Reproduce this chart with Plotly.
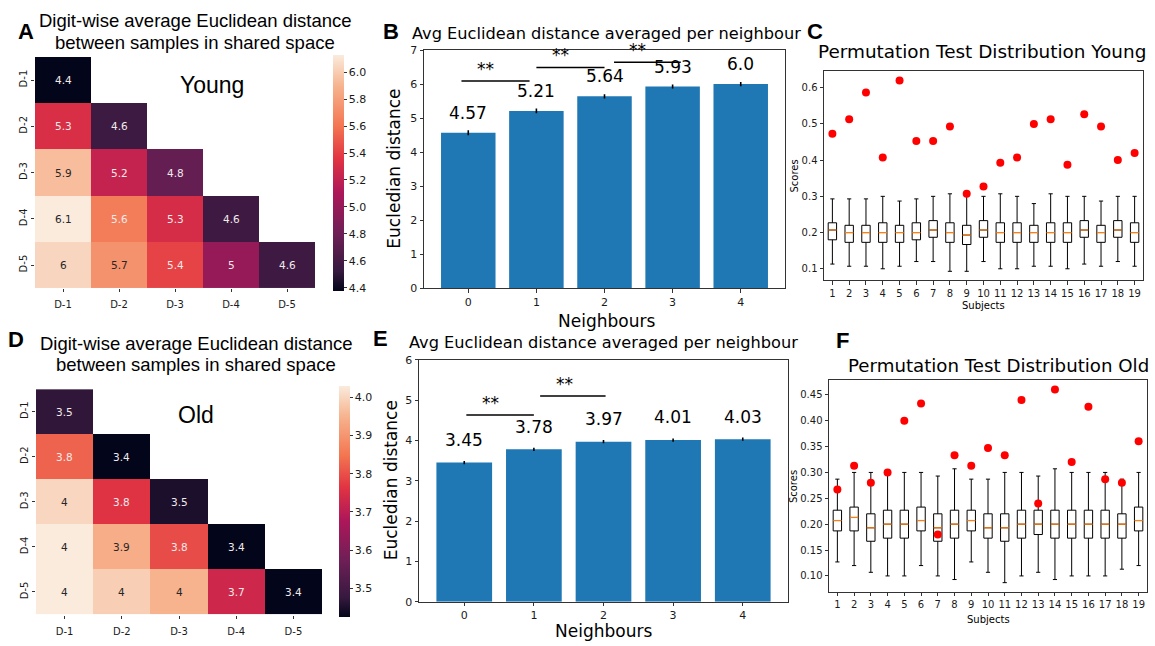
import plotly.graph_objects as go

W, H = 1155, 646

# ---------------- DATA ----------------
digits = ["D-1", "D-2", "D-3", "D-4", "D-5"]

young_dist = [
    [4.38, None, None, None, None],
    [5.32, 4.56, None, None, None],
    [5.94, 5.22, 4.76, None, None],
    [6.13, 5.64, 5.30, 4.57, None],
    [6.04, 5.74, 5.42, 5.00, 4.57],
]
old_dist = [
    [3.47, None, None, None, None],
    [3.825, 3.425, None, None, None],
    [4.00, 3.76, 3.45, None, None],
    [4.03, 3.94, 3.795, 3.425, None],
    [4.03, 3.99, 3.95, 3.73, 3.425],
]

neighbours = [0, 1, 2, 3, 4]
young_nb = [4.57, 5.21, 5.64, 5.93, 6.0]
young_nb_err = [0.07, 0.07, 0.06, 0.06, 0.06]
old_nb = [3.45, 3.78, 3.97, 4.01, 4.03]
old_nb_err = [0.04, 0.04, 0.04, 0.04, 0.04]

subjects = list(range(1, 20))
young_lo = [0.113, 0.107, 0.107, 0.100, 0.107, 0.120, 0.120, 0.093, 0.093, 0.120,
            0.100, 0.100, 0.107, 0.107, 0.100, 0.113, 0.107, 0.120, 0.107]
young_q1 = [0.180, 0.173, 0.173, 0.173, 0.173, 0.180, 0.187, 0.173, 0.167, 0.187,
            0.173, 0.173, 0.173, 0.173, 0.173, 0.187, 0.173, 0.187, 0.173]
young_med = [0.207, 0.200, 0.200, 0.200, 0.200, 0.200, 0.207, 0.200, 0.193, 0.207,
             0.200, 0.200, 0.200, 0.200, 0.200, 0.207, 0.200, 0.207, 0.200]
young_q3 = [0.227, 0.220, 0.220, 0.227, 0.220, 0.227, 0.233, 0.227, 0.220, 0.233,
            0.227, 0.227, 0.220, 0.227, 0.227, 0.233, 0.220, 0.233, 0.227]
young_hi = [0.293, 0.293, 0.293, 0.300, 0.287, 0.293, 0.300, 0.307, 0.300, 0.300,
            0.307, 0.300, 0.280, 0.307, 0.300, 0.300, 0.287, 0.300, 0.300]
young_obs = [0.473, 0.513, 0.587, 0.407, 0.620, 0.453, 0.453, 0.493, 0.307, 0.327,
             0.393, 0.407, 0.500, 0.513, 0.387, 0.527, 0.493, 0.400, 0.420]

old_lo = [0.127, 0.120, 0.107, 0.100, 0.100, 0.120, 0.100, 0.093, 0.127, 0.107,
          0.087, 0.100, 0.107, 0.093, 0.100, 0.100, 0.100, 0.113, 0.120]
old_q1 = [0.187, 0.187, 0.167, 0.173, 0.173, 0.187, 0.167, 0.173, 0.187, 0.173,
          0.167, 0.173, 0.180, 0.173, 0.173, 0.173, 0.173, 0.173, 0.187]
old_med = [0.207, 0.213, 0.193, 0.200, 0.200, 0.207, 0.193, 0.200, 0.207, 0.193,
           0.193, 0.200, 0.200, 0.200, 0.200, 0.200, 0.200, 0.200, 0.207]
old_q3 = [0.227, 0.233, 0.220, 0.227, 0.227, 0.233, 0.220, 0.227, 0.227, 0.220,
          0.220, 0.227, 0.227, 0.227, 0.227, 0.227, 0.227, 0.220, 0.233]
old_hi = [0.287, 0.300, 0.300, 0.300, 0.300, 0.300, 0.293, 0.307, 0.287, 0.287,
          0.300, 0.300, 0.293, 0.307, 0.300, 0.300, 0.300, 0.287, 0.300]
old_obs = [0.267, 0.313, 0.280, 0.300, 0.400, 0.433, 0.180, 0.333, 0.313, 0.347,
           0.333, 0.440, 0.240, 0.460, 0.320, 0.427, 0.287, 0.280, 0.360]

# significance brackets: (x start, x end, height)
young_sig = [(-0.1, 0.9, 6.09), (1.0, 2.0, 6.49), (2.14, 3.12, 6.64)]
old_sig = [(0.03, 1.0, 4.63), (1.09, 2.03, 5.10)]

# ---------------- STYLE ----------------
rocket = [[0.0, "#03051a"], [0.083, "#35193e"], [0.25, "#701f57"], [0.417, "#ad1759"],
          [0.56, "#e13342"], [0.70, "#f37651"], [0.87, "#f6b48f"], [1.0, "#faebdd"]]
MPL = "DejaVu Sans"
ARIAL = "Liberation Sans"
TXT = "#1a1a1a"
BLUE = "#1f77b4"
TEXT_LIFT = 4  # px: centre caps rather than the full text box


def xd(a, b):
    return [a / W, b / W]


def yd(top, bottom):
    return [1 - bottom / H, 1 - top / H]


def px(x):
    return x / W


def py(y):
    return 1 - y / H


fig = go.Figure()
annotations = []
shapes = []


def heatmap_panel(k, z, zmin, zmax, dom_x, dom_y, cb_x, cb_top, cb_bot, cb_dtick):
    fig.add_trace(go.Heatmap(
        z=z, x=digits, y=digits, xaxis=f"x{k}", yaxis=f"y{k}",
        colorscale=rocket, zmin=zmin, zmax=zmax, hoverongaps=False,
        colorbar=dict(x=px(cb_x), xanchor="left", xpad=0, ypad=0,
                      y=py((cb_top + cb_bot) / 2), yanchor="middle",
                      lenmode="pixels", len=cb_bot - cb_top, thickness=11,
                      outlinewidth=0, ticks="outside", ticklen=3, tickcolor="#333",
                      dtick=cb_dtick, tick0=0, tickformat=".1f",
                      tickfont=dict(family=MPL, size=11, color=TXT)),
    ))
    ax = dict(showgrid=False, zeroline=False, ticks="outside", ticklen=3, tickcolor="#333",
              tickfont=dict(family=MPL, size=10, color=TXT), showline=False)
    fig.layout[f"xaxis{k}"] = dict(domain=dom_x, anchor=f"y{k}", ticklabelstandoff=4, **ax)
    fig.layout[f"yaxis{k}"] = dict(domain=dom_y, anchor=f"x{k}", autorange="reversed",
                                   tickangle=-90, **ax)
    for i, row in enumerate(z):
        for j, v in enumerate(row):
            if v is None:
                continue
            frac = (v - zmin) / (zmax - zmin)
            annotations.append(dict(
                x=digits[j], y=digits[i], xref=f"x{k}", yref=f"y{k}",
                text=f"{v:.2g}", showarrow=False,
                font=dict(family=MPL, size=10.5,
                          color="#262626" if frac > 0.75 else "#f2eaea")))


def bar_panel(k, vals, errs, ymax, dom_x, dom_y, sig, label_off):
    fig.add_trace(go.Bar(
        x=neighbours, y=vals, xaxis=f"x{k}", yaxis=f"y{k}", width=0.8,
        marker=dict(color=BLUE, line=dict(width=0)),
        error_y=dict(type="data", array=errs, color="black", thickness=1.6, width=0),
    ))
    ax = dict(showgrid=False, zeroline=False, ticks="outside", ticklen=3.5,
              tickcolor="#333", showline=True, mirror=True, linecolor="#333",
              linewidth=1, tickfont=dict(family=MPL, size=11, color=TXT))
    fig.layout[f"xaxis{k}"] = dict(domain=dom_x, anchor=f"y{k}", range=[-0.65, 4.65],
                                   tickvals=neighbours, **ax)
    fig.layout[f"yaxis{k}"] = dict(domain=dom_y, anchor=f"x{k}", range=[0, ymax],
                                   dtick=1, **ax)
    for x, v in zip(neighbours, vals):
        annotations.append(dict(x=x, y=v + label_off, xref=f"x{k}", yref=f"y{k}",
                                text=str(v), showarrow=False, yshift=TEXT_LIFT,
                                font=dict(family=MPL, size=17, color="black")))
    for x0, x1, h in sig:
        shapes.append(dict(type="line", x0=x0, x1=x1, y0=h, y1=h,
                           xref=f"x{k}", yref=f"y{k}", line=dict(color="black", width=1.5)))
        annotations.append(dict(x=x0 + 0.35, y=h, xref=f"x{k}", yref=f"y{k}",
                                text="**", showarrow=False, yanchor="bottom", yshift=0,
                                font=dict(family=MPL, size=17, color="black")))


def box_panel(k, lo, q1, med, q3, hi, obs, yrange, tickvals, tickfmt, dom_x, dom_y):
    fig.add_trace(go.Box(
        x=subjects, q1=q1, median=med, q3=q3, lowerfence=lo, upperfence=hi,
        xaxis=f"x{k}", yaxis=f"y{k}", width=0.5, whiskerwidth=0.5,
        fillcolor="rgba(0,0,0,0)", line=dict(color="black", width=1), boxpoints=False,
    ))
    mx, my = [], []
    for s, m in zip(subjects, med):
        mx += [s - 0.25, s + 0.25, None]
        my += [m, m, None]
    fig.add_trace(go.Scatter(x=mx, y=my, mode="lines", xaxis=f"x{k}", yaxis=f"y{k}",
                             line=dict(color="#ff7f0e", width=1.2), hoverinfo="skip"))
    fig.add_trace(go.Scatter(x=subjects, y=obs, mode="markers", xaxis=f"x{k}", yaxis=f"y{k}",
                             marker=dict(color="red", size=8, line=dict(width=0))))
    ax = dict(showgrid=False, zeroline=False, ticks="outside", ticklen=3.5,
              tickcolor="#333", showline=True, mirror=True, linecolor="#333",
              linewidth=1, tickfont=dict(family=MPL, size=10, color=TXT))
    fig.layout[f"xaxis{k}"] = dict(domain=dom_x, anchor=f"y{k}", range=[0.5, 19.5],
                                   tickvals=subjects, **ax)
    fig.layout[f"yaxis{k}"] = dict(domain=dom_y, anchor=f"x{k}", range=yrange,
                                   tickvals=tickvals, tickformat=tickfmt, **ax)


# ---------------- PANELS ----------------
heatmap_panel(1, young_dist, 4.38, 6.13, xd(35, 315), yd(52, 288), 333, 52, 288, 0.2)
bar_panel(2, young_nb, young_nb_err, 7, xd(424, 785), yd(45, 288), young_sig, 0.47)
box_panel(3, young_lo, young_q1, young_med, young_q3, young_hi, young_obs,
          [0.068, 0.647], [0.1, 0.2, 0.3, 0.4, 0.5, 0.6], ".1f", xd(824, 1143), yd(66, 280))
heatmap_panel(4, old_dist, 3.425, 4.03, xd(36, 322), yd(391, 621), 339, 390, 621, 0.1)
bar_panel(5, old_nb, old_nb_err, 6, xd(419, 788), yd(361, 608), old_sig, 0.46)
box_panel(6, old_lo, old_q1, old_med, old_q3, old_hi, old_obs,
          [0.069, 0.478], [0.10, 0.15, 0.20, 0.25, 0.30, 0.35, 0.40, 0.45], ".2f",
          xd(829, 1147), yd(382, 598))


def ptext(x, y, text, size, family=MPL, bold=False, angle=0, bg=None, lift=TEXT_LIFT, **kw):
    d = dict(x=px(x), y=py(y - lift), xref="paper", yref="paper",
             text=f"<b>{text}</b>" if bold else text,
             showarrow=False, textangle=angle, xanchor="center", yanchor="middle",
             font=dict(family=family, size=size, color="black"))
    if bg:
        d["bgcolor"] = bg
    d.update(kw)
    annotations.append(d)


# panel letters
for L, x, y in [("A", 26, 30), ("B", 391, 30), ("C", 815, 30),
                ("D", 16, 344), ("E", 380, 343), ("F", 842, 345)]:
    ptext(x, y, L, 22, family=ARIAL, bold=True)

# heatmap titles
ptext(195, 19, "Digit-wise average Euclidean distance", 18.5, family=ARIAL)
ptext(195, 41, "between samples in shared space", 18.5, family=ARIAL)
ptext(196, 348, "Digit-wise average Euclidean distance", 18.5, family=ARIAL)
ptext(196, 370, "between samples in shared space", 18.5, family=ARIAL)
ptext(212, 85, "Young", 23, family=ARIAL)
ptext(196, 421, "Old", 23, family=ARIAL)

# bar titles / labels
ptext(606, 32, "Avg Euclidean distance averaged per neighbour", 16.2)
ptext(603, 347, "Avg Euclidean distance averaged per neighbour", 16.2)
ptext(394, 166, "Eucledian distance", 17, angle=-90, lift=0)
ptext(391, 484, "Eucledian distance", 17, angle=-90, lift=0)
ptext(606, 321, "Neighbours", 17, lift=0)
ptext(603, 638, "Neighbours", 17, lift=0)

# box titles / labels
ptext(982, 50, "Permutation Test Distribution Young", 18.4)
ptext(998, 371, "Permutation Test Distribution Old", 18.2, bg="white", borderpad=2)
ptext(794, 174, "Scores", 10, angle=-90, lift=0)
ptext(793, 491, "Scores", 10, angle=-90, lift=0)
ptext(983, 306, "Subjects", 10, lift=0)
ptext(988, 626, "Subjects", 10, lift=0)

fig.update_layout(
    width=W, height=H, margin=dict(l=0, r=0, t=0, b=0),
    paper_bgcolor="white", plot_bgcolor="white", showlegend=False,
    annotations=annotations, shapes=shapes,
)

fig.write_html("out.html", config={"displayModeBar": False},
               post_script="document.body.style.margin='0';document.body.style.padding='0';")
